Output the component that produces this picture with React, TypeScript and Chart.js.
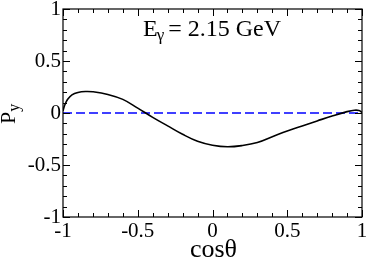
import React, { useEffect, useRef } from "react";
import { Chart, registerables } from "chart.js";

Chart.register(...registerables);

// Data
const cosTheta = [-1, -0.99, -0.97, -0.94, -0.9, -0.85, -0.8, -0.7, -0.6, -0.5, -0.4, -0.3, -0.2, -0.1, 0, 0.1, 0.2, 0.3, 0.4, 0.5, 0.6, 0.7, 0.8, 0.9, 0.95, 0.98, 1];
const pyValues = [0.02, 0.07, 0.13, 0.175, 0.198, 0.207, 0.204, 0.178, 0.131, 0.047, -0.042, -0.124, -0.205, -0.272, -0.31, -0.325, -0.313, -0.284, -0.228, -0.172, -0.124, -0.076, -0.029, 0.013, 0.027, 0.024, 0.005];
const zeroLineX = [-1, 1];
const zeroLineY = [0, 0];
const axisTicks = [-1, -0.5, 0, 0.5, 1];
const energyLabel = "2.15 GeV";

const SERIF = "'Liberation Serif', 'Times New Roman', serif";

const framePlugin = {
  id: "frameAndTexts",
  afterDraw(chart: any) {
    const { ctx, chartArea } = chart;
    const xs = chart.scales.x;
    const ys = chart.scales.y;
    const { left, right, top, bottom } = chartArea;
    ctx.save();
    ctx.strokeStyle = "#000";
    ctx.lineWidth = 1.2;
    ctx.strokeRect(left, top, right - left, bottom - top);
    ctx.lineWidth = 1;
    ctx.beginPath();
    for (let i = 0; i <= 20; i++) {
      const v = -1 + i * 0.1;
      const major = i % 5 === 0;
      const len = major ? 7 : 4;
      const px = Math.round(xs.getPixelForValue(v)) + 0.5;
      ctx.moveTo(px, bottom);
      ctx.lineTo(px, bottom - len);
      ctx.moveTo(px, top);
      ctx.lineTo(px, top + len);
      const py = Math.round(ys.getPixelForValue(v)) + 0.5;
      ctx.moveTo(left, py);
      ctx.lineTo(left + len, py);
      ctx.moveTo(right, py);
      ctx.lineTo(right - len, py);
    }
    ctx.stroke();

    ctx.fillStyle = "#000";
    // x title
    ctx.font = `26px ${SERIF}`;
    ctx.textAlign = "center";
    ctx.textBaseline = "alphabetic";
    ctx.fillText("cos\u03b8", (left + right) / 2 + 1, bottom + 40);

    // y title P_y (rotated)
    ctx.save();
    ctx.translate(15, (top + bottom) / 2 + 11);
    ctx.rotate(-Math.PI / 2);
    ctx.textAlign = "left";
    ctx.font = `22px ${SERIF}`;
    ctx.fillText("P", 0, 0);
    const pw = ctx.measureText("P").width;
    ctx.font = `16px ${SERIF}`;
    ctx.fillText("y", pw, 4);
    ctx.restore();

    // annotation E_gamma = 2.15 GeV
    ctx.textAlign = "left";
    const bx = left + 80;
    const by = top + 27;
    ctx.font = `24px ${SERIF}`;
    ctx.fillText("E", bx, by);
    const ew = ctx.measureText("E").width;
    ctx.font = `17px ${SERIF}`;
    ctx.fillText("\u03b3", bx + ew - 1, by + 4);
    const gw = ctx.measureText("\u03b3").width;
    ctx.font = `24px ${SERIF}`;
    ctx.fillText("= " + energyLabel, bx + ew + gw + 3, by);
    ctx.restore();
  },
};

export default function App() {
  const canvasRef = useRef<HTMLCanvasElement | null>(null);

  useEffect(() => {
    if (!canvasRef.current) return;
    const chart = new Chart(canvasRef.current, {
      type: "line",
      data: {
        datasets: [
          {
            data: cosTheta.map((x, i) => ({ x, y: pyValues[i] })),
            borderColor: "#000",
            borderWidth: 1.6,
            pointRadius: 0,
            tension: 0.4,
            fill: false,
          },
          {
            data: zeroLineX.map((x, i) => ({ x, y: zeroLineY[i] })),
            borderColor: "#0000ff",
            borderWidth: 1.6,
            borderDash: [9, 4],
            pointRadius: 0,
            fill: false,
          },
        ],
      },
      options: {
        responsive: false,
        animation: false,
        layout: { padding: { top: 9, right: 6, left: 0, bottom: 0 } },
        plugins: { legend: { display: false }, tooltip: { enabled: false } },
        scales: {
          x: {
            type: "linear",
            min: -1,
            max: 1,
            afterBuildTicks: (s: any) => {
              s.ticks = axisTicks.map((v) => ({ value: v }));
            },
            afterFit: (s: any) => {
              s.height = 43;
              s.paddingLeft = 0;
              s.paddingRight = 0;
            },
            grid: { display: false, drawTicks: false },
            border: { display: false },
            ticks: {
              padding: 2,
              color: "#000",
              font: { family: SERIF, size: 21 },
              maxRotation: 0,
              autoSkip: false,
              callback: (v: any) => String(v),
            },
          },
          y: {
            type: "linear",
            min: -1,
            max: 1,
            afterBuildTicks: (s: any) => {
              s.ticks = axisTicks.map((v) => ({ value: v }));
            },
            afterFit: (s: any) => {
              s.width = 63;
              s.paddingTop = 0;
              s.paddingBottom = 0;
            },
            grid: { display: false, drawTicks: false },
            border: { display: false },
            ticks: {
              padding: 2,
              color: "#000",
              font: { family: SERIF, size: 21 },
              autoSkip: false,
              callback: (v: any) => String(v),
            },
          },
        },
      },
      plugins: [framePlugin],
    });
    return () => chart.destroy();
  }, []);

  return (
    <div style={{ position: "absolute", left: 0, top: 0, width: 368, height: 260, background: "#fff" }}>
      <canvas ref={canvasRef} width={368} height={260} style={{ display: "block" }} />
    </div>
  );
}
